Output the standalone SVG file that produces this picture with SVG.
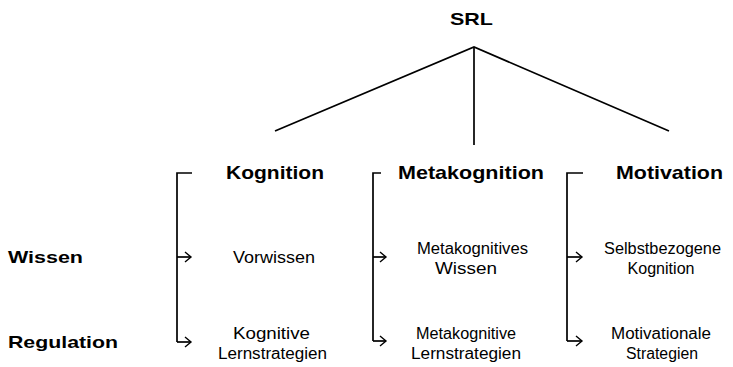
<svg xmlns="http://www.w3.org/2000/svg" width="733" height="367" viewBox="0 0 733 367">
<defs>
<marker id="arr" markerWidth="10" markerHeight="12" refX="8" refY="6" orient="auto" markerUnits="userSpaceOnUse">
<path d="M2,1 L8,6 L2,11" fill="none" stroke="#000" stroke-width="1.4"/>
</marker>
</defs>
<style>
.b{font-family:"Liberation Sans",Arial,sans-serif;font-weight:bold;fill:#000}
.r{font-family:"Liberation Sans",Arial,sans-serif;font-size:16px;fill:#000}
.ln{fill:none;stroke:#000;stroke-width:1.7}
</style>
<rect width="733" height="367" fill="#fff"/>
<g id="connectors">
<path class="ln" d="M275,131 L474,47 L669,131"/>
<path class="ln" d="M474,47 V145"/>
<path class="ln" d="M192,173 H177 V342"/>
<path class="ln" d="M177,257 H191" marker-end="url(#arr)"/>
<path class="ln" d="M177,342 H191" marker-end="url(#arr)"/>
<path class="ln" d="M381,173 H373 V341"/>
<path class="ln" d="M373,257 H386" marker-end="url(#arr)"/>
<path class="ln" d="M373,341 H386" marker-end="url(#arr)"/>
<path class="ln" d="M583,173 H567 V341"/>
<path class="ln" d="M567,257 H582" marker-end="url(#arr)"/>
<path class="ln" d="M567,341 H582" marker-end="url(#arr)"/>
</g>
<g id="srl"><text class="b" x="471.5" y="25" font-size="17" text-anchor="middle" textLength="43" lengthAdjust="spacingAndGlyphs">SRL</text></g>
<g id="kognition"><text class="b" x="275" y="179" font-size="19" text-anchor="middle" textLength="98" lengthAdjust="spacingAndGlyphs">Kognition</text></g>
<g id="metakognition"><text class="b" x="471" y="179" font-size="19" text-anchor="middle" textLength="146" lengthAdjust="spacingAndGlyphs">Metakognition</text></g>
<g id="motivation"><text class="b" x="669.5" y="179" font-size="19" text-anchor="middle" textLength="107" lengthAdjust="spacingAndGlyphs">Motivation</text></g>
<g id="wissen"><text class="b" x="8" y="263" font-size="17" textLength="75" lengthAdjust="spacingAndGlyphs">Wissen</text></g>
<g id="regulation"><text class="b" x="8" y="348" font-size="17" textLength="110" lengthAdjust="spacingAndGlyphs">Regulation</text></g>
<g id="vorwissen"><text class="r" x="274" y="263" text-anchor="middle" textLength="82" lengthAdjust="spacingAndGlyphs">Vorwissen</text></g>
<g id="metakognitives-wissen">
<text class="r" x="472.5" y="254" text-anchor="middle" textLength="111" lengthAdjust="spacingAndGlyphs">Metakognitives</text>
<text class="r" x="466" y="274" text-anchor="middle" textLength="62" lengthAdjust="spacingAndGlyphs">Wissen</text>
</g>
<g id="selbstbezogene-kognition">
<text class="r" x="662.5" y="254" text-anchor="middle" textLength="117" lengthAdjust="spacingAndGlyphs">Selbstbezogene</text>
<text class="r" x="661" y="274" text-anchor="middle" textLength="67" lengthAdjust="spacingAndGlyphs">Kognition</text>
</g>
<g id="kognitive-lernstrategien">
<text class="r" x="271.5" y="339" text-anchor="middle" textLength="77" lengthAdjust="spacingAndGlyphs">Kognitive</text>
<text class="r" x="272.5" y="359" text-anchor="middle" textLength="109" lengthAdjust="spacingAndGlyphs">Lernstrategien</text>
</g>
<g id="metakognitive-lernstrategien">
<text class="r" x="466" y="339" text-anchor="middle" textLength="100" lengthAdjust="spacingAndGlyphs">Metakognitive</text>
<text class="r" x="466" y="359" text-anchor="middle" textLength="110" lengthAdjust="spacingAndGlyphs">Lernstrategien</text>
</g>
<g id="motivationale-strategien">
<text class="r" x="661" y="339" text-anchor="middle" textLength="100" lengthAdjust="spacingAndGlyphs">Motivationale</text>
<text class="r" x="662" y="359" text-anchor="middle" textLength="72" lengthAdjust="spacingAndGlyphs">Strategien</text>
</g>
</svg>
